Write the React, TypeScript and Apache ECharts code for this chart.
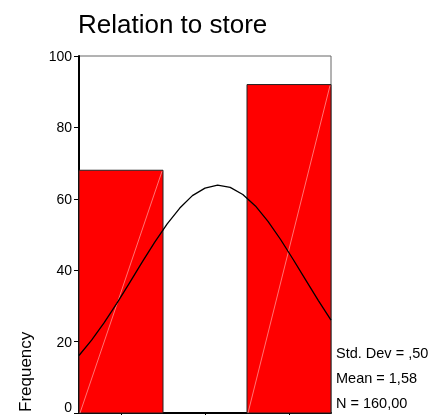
import React, { useEffect, useRef } from "react";
import * as echarts from "echarts";

// Histogram bins (lower edge, upper edge, frequency)
const binLower = [0.75, 1.25, 1.75];
const binUpper = [1.25, 1.75, 2.25];
const binCounts = [68, 0, 92];

// Normal curve
const curveX = [0.75, 0.825, 0.9, 0.975, 1.05, 1.125, 1.2, 1.275, 1.35, 1.425, 1.5, 1.575, 1.65, 1.725, 1.8, 1.875, 1.95, 2.025, 2.1, 2.175, 2.25];
const curveY = [16.1, 20.4, 25.3, 30.7, 36.4, 42.2, 47.8, 53.0, 57.4, 60.9, 63.0, 63.8, 63.2, 61.2, 58.0, 53.7, 48.6, 43.0, 37.2, 31.5, 26.0];

const xTicks = [1, 1.5, 2];
const statLines = ["Std. Dev = ,50", "Mean = 1,58", "N = 160,00"];
const titleText = "Relation to store";
const yName = "Frequency";

const FONT = "'Liberation Sans', Arial, sans-serif";

export default function App() {
  const ref = useRef<HTMLDivElement>(null);
  useEffect(() => {
    if (!ref.current) return;
    const chart = echarts.init(ref.current, null, { renderer: "svg" });
    const barData = binLower.map((lo, i) => [lo, binUpper[i], binCounts[i]]).filter((d) => d[2] > 0);
    const curveData = curveX.map((x, i) => [x, curveY[i]]);
    chart.setOption({
      animation: false,
      textStyle: { fontFamily: FONT },
      grid: {
        left: 79,
        right: 97,
        top: 56,
        bottom: 2,
        outerBoundsMode: "none",
        containLabel: false,
        show: true,
        borderColor: "#666",
        borderWidth: 1,
        backgroundColor: "transparent",
      },
      xAxis: {
        type: "value",
        min: 0.75,
        max: 2.25,
        splitLine: { show: false },
        axisLine: { show: true, onZero: false, lineStyle: { color: "#000", width: 2 } },
        axisTick: { show: true, length: 4, customValues: xTicks, lineStyle: { color: "#000" } },
        axisLabel: { show: false },
      },
      yAxis: {
        type: "value",
        min: 0,
        max: 100,
        interval: 20,
        splitLine: { show: false },
        axisLine: { show: true, lineStyle: { color: "#000", width: 2 } },
        axisTick: { show: true, length: 5, lineStyle: { color: "#000" } },
        axisLabel: {
          color: "#000",
          fontSize: 14,
          margin: 7,
          fontFamily: FONT,
          formatter: (v: number) => (v === 0 ? "{z|0}" : String(v)),
          rich: { z: { fontSize: 14, color: "#000", fontFamily: FONT, padding: [0, 0, 13, 0] } },
        },
      },
      series: [
        {
          type: "custom",
          data: barData,
          z: 2,
          renderItem: (params: any, api: any) => {
            const p0 = api.coord([api.value(0), api.value(2)]);
            const p1 = api.coord([api.value(1), 0]);
            const x = p0[0];
            const y = p0[1];
            const w = p1[0] - p0[0];
            const h = p1[1] - p0[1];
            return {
              type: "group",
              children: [
                {
                  type: "rect",
                  shape: { x, y, width: w, height: h },
                  style: { fill: "#ff0000", stroke: "#222", lineWidth: 1 },
                },
                {
                  type: "line",
                  shape: { x1: x + 1, y1: y + h, x2: x + w - 1, y2: y + 1 },
                  style: { stroke: "rgba(255,255,255,0.45)", lineWidth: 1 },
                },
              ],
            };
          },
        },
        {
          type: "line",
          data: curveData,
          symbol: "none",
          smooth: false,
          z: 5,
          lineStyle: { color: "#000", width: 1.3 },
        },
      ],
      graphic: [
        {
          type: "text",
          x: 78,
          y: 24,
          style: { text: titleText, fontSize: 26, fill: "#000", fontFamily: FONT, textVerticalAlign: "middle" },
        },
        {
          type: "text",
          x: 25,
          y: 412,
          rotation: Math.PI / 2,
          style: { text: yName, fontSize: 17, fill: "#000", fontFamily: FONT, textAlign: "left", textVerticalAlign: "middle" },
        },
        ...statLines.map((t, i) => ({
          type: "text",
          x: 336,
          y: 353 + i * 25,
          style: { text: t, fontSize: 14.5, fill: "#000", fontFamily: FONT, textVerticalAlign: "middle" },
        })),
      ],
    });
    return () => chart.dispose();
  }, []);
  return <div ref={ref} style={{ position: "fixed", left: 0, top: 0, width: 428, height: 415 }} />;
}
